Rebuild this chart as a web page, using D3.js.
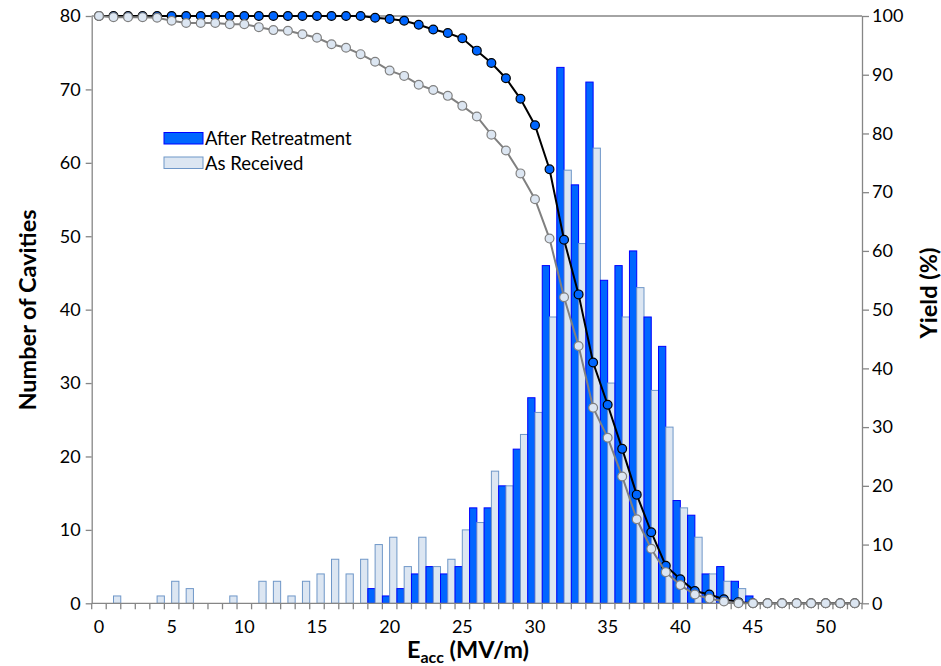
<!DOCTYPE html>
<html>
<head>
<meta charset="utf-8">
<script src="https://cdn.jsdelivr.net/npm/d3@7"></script>
<style>
    body { margin: 0; background: #fff; }
    svg text { font-family: Lato, "Open Sans", sans-serif; fill: #000; }
    .tick-label { font-size: 18px; }
    .legend-label { font-size: 18.5px; }
    .axis-title { font-size: 23.5px; font-weight: bold; }
</style>
</head>
<body>
<div id="chart"></div>
<script>
// Gradient bins (MV/m)
const categories = [0, 1, 2, 3, 4, 5, 6, 7, 8, 9, 10, 11, 12, 13, 14, 15, 16, 17, 18, 19,
    20, 21, 22, 23, 24, 25, 26, 27, 28, 29, 30, 31, 32, 33, 34, 35, 36, 37, 38, 39,
    40, 41, 42, 43, 44, 45, 46, 47, 48, 49, 50, 51, 52];
const xTickLabels = [0, 5, 10, 15, 20, 25, 30, 35, 40, 45, 50];
const countTicks = [0, 10, 20, 30, 40, 50, 60, 70, 80];
const yieldTicks = [0, 10, 20, 30, 40, 50, 60, 70, 80, 90, 100];
const seriesNames = ['After Retreatment', 'As Received'];

// Number of cavities per bin
const afterRetreatment = [0, 0, 0, 0, 0, 0, 0, 0, 0, 0, 0, 0, 0, 0, 0, 0, 0, 0, 0, 2,
    1, 2, 4, 5, 4, 5, 13, 13, 16, 21, 28, 46, 73, 57, 71, 44, 46, 48, 39, 35,
    14, 12, 4, 5, 3, 1, 0, 0, 0, 0, 0, 0, 0];
const asReceived = [0, 1, 0, 0, 1, 3, 2, 0, 0, 1, 0, 3, 3, 1, 3, 4, 6, 4, 6, 8,
    9, 5, 9, 5, 6, 10, 11, 18, 16, 23, 26, 39, 59, 49, 62, 30, 39, 43, 29, 24,
    13, 9, 4, 3, 2, 0, 0, 0, 0, 0, 0, 0, 0];

// Yield (%) per bin
const yieldAfter = [100, 100, 100, 100, 100, 100, 100, 100, 100, 100, 100, 100, 100, 100, 100, 100, 100, 100, 100, 99.7,
    99.5, 99.2, 98.5, 97.7, 97.1, 96.2, 94.1, 92.0, 89.4, 85.9, 81.4, 73.9, 61.9, 52.6, 41.0, 33.8, 26.3, 18.5, 12.1, 6.4,
    4.1, 2.1, 1.5, 0.7, 0.2, 0, 0, 0, 0, 0, 0, 0, 0];
const yieldReceived = [100, 99.8, 99.8, 99.8, 99.7, 99.2, 98.8, 98.8, 98.8, 98.6, 98.6, 98.1, 97.6, 97.5, 96.9, 96.3, 95.2, 94.6, 93.5, 92.2,
    90.7, 89.8, 88.3, 87.4, 86.4, 84.7, 82.9, 79.8, 77.1, 73.2, 68.8, 62.1, 52.1, 43.8, 33.3, 28.2, 21.6, 14.3, 9.3, 5.3,
    3.1, 1.5, 0.8, 0.3, 0, 0, 0, 0, 0, 0, 0, 0, 0];

const axisColor = '#868686';

class CavityChart {
    constructor() {
        this.margin = { top: 16, right: 79, bottom: 62.7, left: 91.7 };
        this.width = 941 - this.margin.left - this.margin.right;
        this.height = 666 - this.margin.top - this.margin.bottom;
        this.drawPlot();
    }

    drawPlot() {
        this.svg = d3.select('#chart')
            .append('svg')
            .attr('width', 941)
            .attr('height', 666);

        let g = this.svg.append('g')
            .attr('transform', `translate(${this.margin.left}, ${this.margin.top})`);

        this.xScale = d3.scaleBand()
            .domain(categories)
            .range([0, this.width])
            .padding(0);
        this.subScale = d3.scaleBand()
            .domain(seriesNames)
            .range([0, this.xScale.bandwidth()]);
        this.yLeft = d3.scaleLinear().domain([0, 80]).range([this.height, 0]);
        this.yRight = d3.scaleLinear().domain([0, 100]).range([this.height, 0]);

        // bars
        let barData = [];
        categories.forEach((c, i) => {
            barData.push({ cat: c, series: seriesNames[0], value: afterRetreatment[i] });
            barData.push({ cat: c, series: seriesNames[1], value: asReceived[i] });
        });
        g.append('g').selectAll('rect')
            .data(barData.filter(d => d.value > 0))
            .join('rect')
            .attr('x', d => this.xScale(d.cat) + this.subScale(d.series))
            .attr('y', d => this.yLeft(d.value))
            .attr('width', this.subScale.bandwidth())
            .attr('height', d => this.height - this.yLeft(d.value))
            .attr('fill', d => d.series === seriesNames[0] ? '#0066ff' : '#dce6f2')
            .attr('stroke', d => d.series === seriesNames[0] ? '#0000ff' : '#6f97c8')
            .attr('stroke-width', 1);

        // axes
        let leftAxis = d3.axisLeft(this.yLeft).tickValues(countTicks).tickSize(6).tickSizeOuter(0).tickPadding(5);
        let rightAxis = d3.axisRight(this.yRight).tickValues(yieldTicks).tickSize(7).tickSizeOuter(0).tickPadding(3);
        let bottomAxis = d3.axisBottom(this.xScale).tickValues(xTickLabels).tickSize(0).tickPadding(17);

        let gl = g.append('g').call(leftAxis);
        let gr = g.append('g').attr('transform', `translate(${this.width}, 0)`).call(rightAxis);
        let gb = g.append('g').attr('transform', `translate(0, ${this.height})`).call(bottomAxis);
        [gl, gr, gb].forEach(a => {
            a.selectAll('path, line').attr('stroke', axisColor).attr('stroke-width', 1.3);
            a.selectAll('text').classed('tick-label', true);
        });
        gb.select('.domain').remove();

        // category boundary ticks on x axis
        let bounds = categories.map(c => this.xScale(c)).concat([this.width]);
        g.append('g').selectAll('line')
            .data(bounds)
            .join('line')
            .attr('x1', d => d).attr('x2', d => d)
            .attr('y1', this.height).attr('y2', this.height + 6)
            .attr('stroke', axisColor).attr('stroke-width', 1.3);
        g.append('line')
            .attr('x1', 0).attr('x2', this.width)
            .attr('y1', this.height).attr('y2', this.height)
            .attr('stroke', axisColor).attr('stroke-width', 1.3);
        g.append('line')
            .attr('x1', 0).attr('x2', this.width)
            .attr('y1', 0).attr('y2', 0)
            .attr('stroke', axisColor).attr('stroke-width', 1.3);

        // yield curves
        let cx = (i) => this.xScale(categories[i]) + this.xScale.bandwidth() / 2;
        let line = d3.line().x((d, i) => cx(i)).y(d => this.yRight(d));
        let curves = [
            { values: yieldAfter, stroke: '#000000', fill: '#0066ff' },
            { values: yieldReceived, stroke: '#808080', fill: '#dce6f2' }
        ];
        curves.forEach(s => {
            let cg = g.append('g');
            cg.append('path')
                .datum(s.values)
                .attr('d', line)
                .attr('fill', 'none')
                .attr('stroke', s.stroke)
                .attr('stroke-width', 2);
            cg.selectAll('circle')
                .data(s.values)
                .join('circle')
                .attr('cx', (d, i) => cx(i))
                .attr('cy', d => this.yRight(d))
                .attr('r', 4.4)
                .attr('fill', s.fill)
                .attr('stroke', s.stroke)
                .attr('stroke-width', 1.2);
        });

        // legend
        let legend = this.svg.append('g').attr('transform', 'translate(164, 132.5)');
        seriesNames.forEach((name, i) => {
            let row = legend.append('g').attr('transform', `translate(0, ${i * 24.5})`);
            row.append('rect')
                .attr('width', 39).attr('height', 11.5)
                .attr('fill', i === 0 ? '#0066ff' : '#dce6f2')
                .attr('stroke', i === 0 ? '#0000ff' : '#6f97c8');
            row.append('text')
                .classed('legend-label', true)
                .attr('x', 41).attr('y', 12.5)
                .text(name);
        });

        // axis titles
        this.svg.append('text')
            .classed('axis-title', true)
            .attr('text-anchor', 'middle')
            .attr('transform', 'translate(36, 310) rotate(-90)')
            .text('Number of Cavities');
        this.svg.append('text')
            .classed('axis-title', true)
            .attr('text-anchor', 'middle')
            .attr('transform', 'translate(937, 293) rotate(-90)')
            .text('Yield (%)');
        let xt = this.svg.append('text')
            .classed('axis-title', true)
            .attr('text-anchor', 'middle')
            .attr('x', 468).attr('y', 658);
        xt.append('tspan').text('E');
        xt.append('tspan').attr('font-size', '16px').attr('dy', 5).text('acc');
        xt.append('tspan').attr('dy', -5).text(' (MV/m)');
    }
}

new CavityChart();
</script>
</body>
</html>
